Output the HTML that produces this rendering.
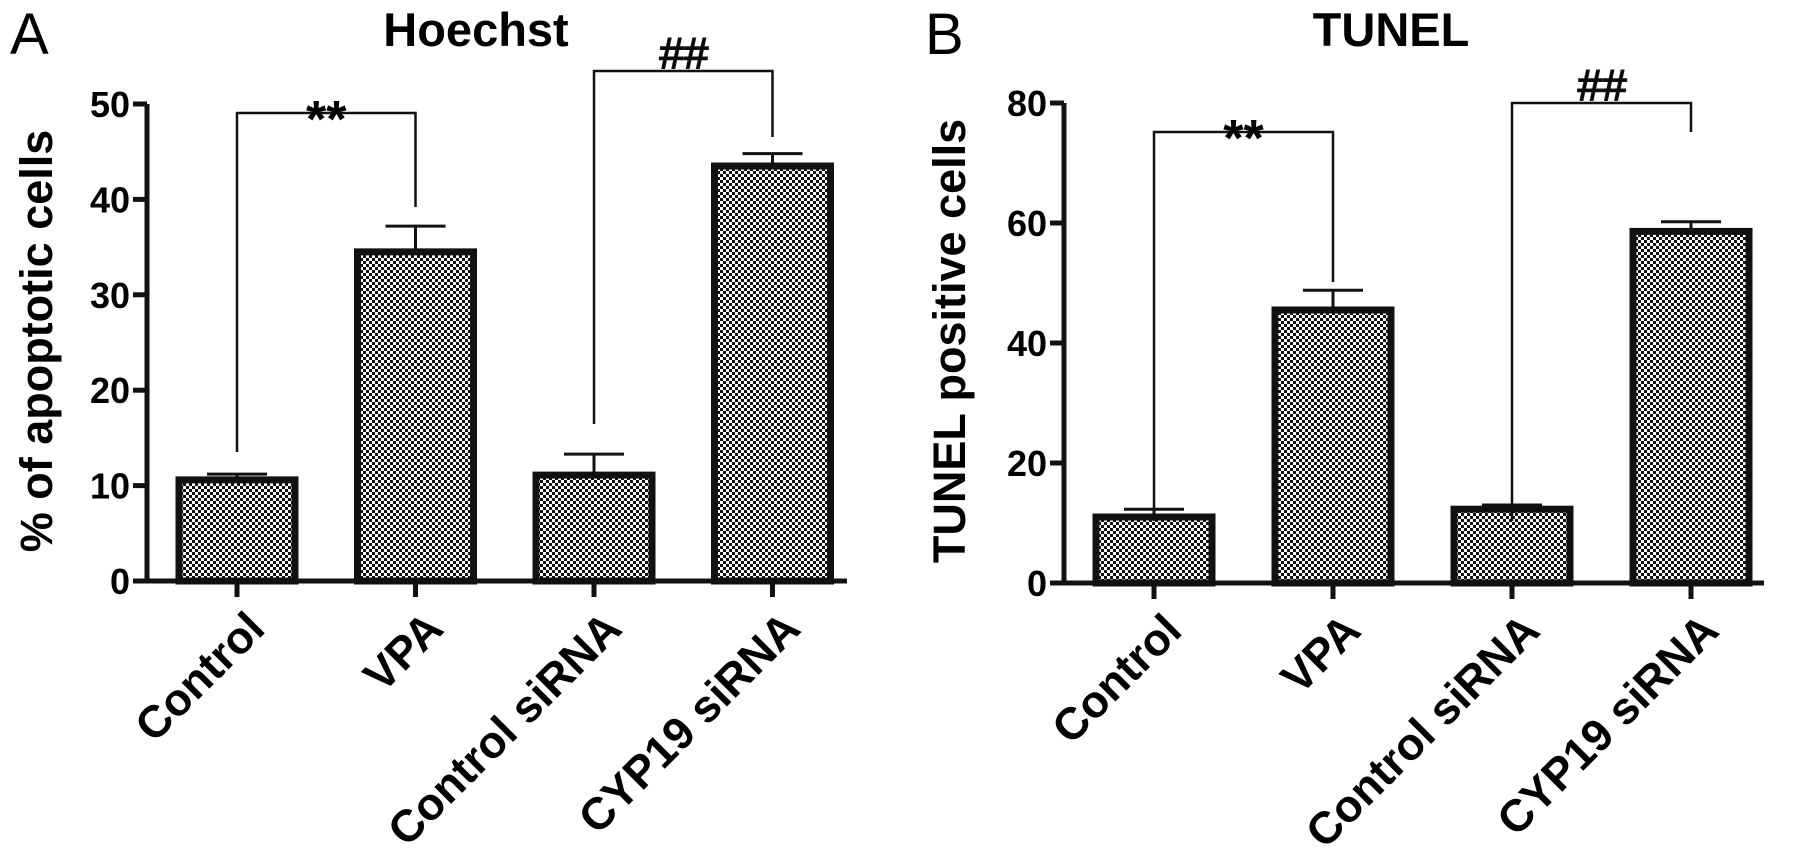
<!DOCTYPE html>
<html><head><meta charset="utf-8"><style>
html,body{margin:0;padding:0;background:#fff;}
svg{display:block;font-family:"Liberation Sans",Arial,sans-serif;}
</style></head><body>
<svg id="fig" width="1795" height="861" viewBox="0 0 1795 861">
<defs>
<pattern id="chk" width="6" height="6" patternUnits="userSpaceOnUse">
<rect width="6" height="6" fill="#fff"/><rect width="3" height="3" fill="#111"/><rect x="3" y="3" width="3" height="3" fill="#111"/>
</pattern>
</defs>
</svg>
<script>
const categories = ["Control","VPA","Control siRNA","CYP19 siRNA"];
const hoechstValues = [10.6, 34.5, 11.1, 43.5];
const hoechstErrors = [0.6, 2.7, 2.2, 1.3];
const hoechstTicks = [0,10,20,30,40,50];
const tunelValues = [11, 45.5, 12.3, 58.6];
const tunelErrors = [1.3, 3.3, 0.7, 1.6];
const tunelTicks = [0,20,40,60,80];

const NS="http://www.w3.org/2000/svg";
const svg=document.getElementById('fig');
function mk(tag,attrs,parent){const e=document.createElementNS(NS,tag);for(const k in attrs)e.setAttribute(k,attrs[k]);(parent||svg).appendChild(e);return e;}

function panel(cfg){
  const g=mk('g',{});
  
  
  const y=v=>cfg.y0-(v/cfg.max)*(cfg.y0-cfg.yTop);
  const x=i=>cfg.x0+i*cfg.step;
  const L=mk('text',{x:cfg.letterX,y:54,'font-size':58},g);L.textContent=cfg.letter;
  
  
  const T=mk('text',{x:cfg.titleX,y:46,'font-size':47,'font-weight':'bold','text-anchor':'middle'},g);T.textContent=cfg.title;
  
  
  const Y=mk('text',{x:0,y:0,'font-size':45,'font-weight':'bold','text-anchor':'middle',transform:`translate(${cfg.ytX},341) rotate(-90)`},g);Y.textContent=cfg.ytitle;
  
  
  const ax=mk('path',{d:`M${cfg.axX},${y(cfg.max)} V${cfg.y0} H${cfg.axX+700}`,stroke:'#111','stroke-width':5,fill:'none'},g);
  
  
  cfg.ticks.forEach(t=>{
    const tl=mk('line',{x1:cfg.axX-14,x2:cfg.axX,y1:y(t),y2:y(t),stroke:'#111','stroke-width':5},g);
    
    
    const tx=mk('text',{x:cfg.axX-17,y:y(t)+13,'font-size':36,'font-weight':'bold','text-anchor':'end'},g);tx.textContent=t;
    
    
  });
  categories.forEach((c,i)=>{
    const cx=x(i),v=cfg.values[i],e=cfg.errors[i];
    const el=mk('line',{x1:cx,x2:cx,y1:y(v),y2:y(v+e),stroke:'#111','stroke-width':3},g);
    
    
    const cap=mk('line',{x1:cx-30,x2:cx+30,y1:y(v+e),y2:y(v+e),stroke:'#111','stroke-width':3},g);
    
    
    const b=mk('rect',{x:cx-58,y:y(v),width:116,height:cfg.y0-y(v),fill:'url(#chk)',stroke:'#111','stroke-width':7},g);
    
    
    const tk=mk('line',{x1:cx,x2:cx,y1:cfg.y0,y2:cfg.y0+16,stroke:'#111','stroke-width':5},g);
    
    
    const lb=mk('text',{x:0,y:0,'font-size':45,'font-weight':'bold','text-anchor':'end',transform:`translate(${cx+30},${cfg.y0+50}) rotate(-45)`},g);lb.textContent=c;
    
    
  });
  cfg.brackets.forEach(br=>{
    const x1=x(br.a),x2=x(br.b);
    const p=mk('path',{d:`M${x1},${br.l} V${br.top} H${x2} V${br.r}`,stroke:'#111','stroke-width':2.5,fill:'none'},g);
    
    
    const isStar=br.sym==='**';
    const s=mk('text',{x:(x1+x2)/2,y:isStar?br.top+24:br.top-3,'font-size':isStar?52:44,'font-weight':isStar?'bold':'normal','font-style':isStar?'normal':'italic','text-anchor':'middle',stroke:isStar?'none':'#111','stroke-width':1.5},g);
    s.textContent=br.sym;
    
    
  });
}
panel({id:'hoechst',letter:'A',letterX:10,title:'Hoechst',titleX:476,ytitle:'% of apoptotic cells',ytX:52,
  axX:147,x0:237,step:178.5,y0:581,yTop:104,max:50,ticks:hoechstTicks,values:hoechstValues,errors:hoechstErrors,
  brackets:[{a:0,b:1,top:113,l:452,r:207,sym:'**'},{a:2,b:3,top:71,l:424,r:137,sym:'##'}]});
panel({id:'tunel',letter:'B',letterX:925,title:'TUNEL',titleX:1391,ytitle:'TUNEL positive cells',ytX:965,
  axX:1064,x0:1154,step:179,y0:583,yTop:103,max:80,ticks:tunelTicks,values:tunelValues,errors:tunelErrors,
  brackets:[{a:0,b:1,top:132,l:521,r:282,sym:'**'},{a:2,b:3,top:103,l:521,r:132,sym:'##'}]});
</script>
</body></html>
